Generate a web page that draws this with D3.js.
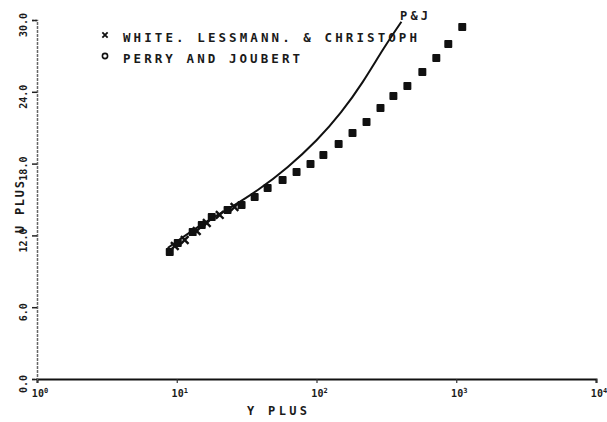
<!DOCTYPE html>
<html>
<head>
<meta charset="utf-8">
<script src="https://cdn.jsdelivr.net/npm/d3@7/dist/d3.min.js"></script>
<style>
  html, body { margin: 0; padding: 0; background: #fff; }
  svg { display: block; }
  text { font-family: "DejaVu Sans Mono", monospace; fill: #1a1a1a; font-weight: bold; }
</style>
</head>
<body>
<svg id="chart" width="607" height="422"></svg>
<script>
// ---- data ----
const xTicks = [1, 10, 100, 1000, 10000];
const xTickExp = ["0", "1", "2", "3", "4"];
const yTicks = [0, 6, 12, 18, 24, 30];
const yTickLabels = ["0.0", "6.0", "12.0", "18.0", "24.0", "30.0"];

// dots (filled markers)
const dotYPlus = [8.91, 10.17, 13.0, 15.1, 17.8, 23.1, 29.1, 36.1, 44.7, 57.2, 72.0, 90.6, 112, 144, 181, 228, 287, 355, 447, 572, 720, 877, 1104];
const dotUPlus = [10.61, 11.37, 12.28, 12.87, 13.54, 14.12, 14.54, 15.21, 15.96, 16.63, 17.30, 17.97, 18.72, 19.64, 20.56, 21.48, 22.65, 23.65, 24.49, 25.66, 26.83, 28.0, 29.42];

// crosses (White, Lessmann & Christoph)
const crossYPlus = [9.68, 11.4, 13.9, 16.4, 20.3, 25.9];
const crossUPlus = [11.11, 11.62, 12.37, 13.04, 13.71, 14.37];

// P&J curve
const curveYPlus = [8.62, 14.6, 23.9, 38.0, 62.0, 100, 150, 215, 300, 405];
const curveUPlus = [10.95, 12.79, 14.29, 15.79, 17.70, 19.95, 22.30, 24.85, 27.55, 29.85];

const legendLabels = ["WHITE. LESSMANN. & CHRISTOPH", "PERRY AND JOUBERT"];
const curveLabel = "P&J";
const xTitle = "Y PLUS";
const yTitle = "U PLUS";

// ---- chart ----
const svg = d3.select("#chart");
const x = d3.scaleLog().domain([1, 10000]).range([37, 596]);
const y = d3.scaleLinear().domain([0, 30]).range([379, 20]);

// axes
const xAxis = d3.axisBottom(x).tickValues(xTicks).tickSize(4).tickFormat(() => "");
const gx = svg.append("g").attr("transform", `translate(0,${y(0)})`).call(xAxis);
gx.select(".domain").attr("stroke", "#111").attr("stroke-width", 2);
gx.selectAll(".tick line").attr("stroke", "#333").attr("stroke-width", 1.2);

const yAxis = d3.axisLeft(y).tickValues(yTicks).tickSize(5).tickFormat(() => "");
const gy = svg.append("g").attr("transform", `translate(${x(1)},0)`).call(yAxis);
gy.select(".domain").attr("stroke", "#666").attr("stroke-width", 1.5).attr("stroke-dasharray", "3,1");
gy.selectAll(".tick line").attr("stroke", "#222").attr("stroke-width", 1.5);

// x tick labels
xTicks.forEach((t, i) => {
  const tx = svg.append("text")
    .attr("x", x(t) + 3).attr("y", 397)
    .attr("text-anchor", "middle")
    .attr("font-size", 10);
  tx.append("tspan").text("10");
  tx.append("tspan").attr("dy", -4).attr("font-size", 7).text(xTickExp[i]);
});

// y tick labels (rotated)
yTicks.forEach((t, i) => {
  svg.append("text")
    .attr("transform", `translate(27,${y(t) + 5}) rotate(-90)`)
    .attr("text-anchor", "middle")
    .attr("font-size", 10)
    .text(yTickLabels[i]);
});

// axis titles
svg.append("text")
  .attr("x", 247).attr("y", 415)
  .attr("font-size", 12)
  .attr("textLength", 60).attr("lengthAdjust", "spacing")
  .text(xTitle);
svg.append("text")
  .attr("transform", `translate(24,233) rotate(-90)`)
  .attr("font-size", 12)
  .attr("textLength", 52).attr("lengthAdjust", "spacing")
  .text(yTitle);

// P&J curve
const line = d3.line()
  .x(d => x(d[0])).y(d => y(d[1]))
  .curve(d3.curveNatural);
svg.append("path")
  .datum(curveYPlus.map((v, i) => [v, curveUPlus[i]]))
  .attr("d", line)
  .attr("fill", "none")
  .attr("stroke", "#111")
  .attr("stroke-width", 2);

// dots
const sq = d3.symbol().type(d3.symbolSquare).size(38);
svg.append("g").selectAll("path")
  .data(dotYPlus.map((v, i) => [v, dotUPlus[i]]))
  .join("path")
  .attr("transform", d => `translate(${x(d[0])},${y(d[1])})`)
  .attr("d", sq)
  .attr("fill", "#111")
  .attr("stroke", "#111")
  .attr("stroke-width", 1.8)
  .attr("stroke-linejoin", "round");

// crosses
const cr = d3.symbol().type(d3.symbolX).size(40);
svg.append("g").selectAll("path")
  .data(crossYPlus.map((v, i) => [v, crossUPlus[i]]))
  .join("path")
  .attr("transform", d => `translate(${x(d[0])},${y(d[1])})`)
  .attr("d", cr)
  .attr("fill", "none")
  .attr("stroke", "#111")
  .attr("stroke-width", 2.4);

// curve label
svg.append("text")
  .attr("x", 400).attr("y", 20)
  .attr("font-size", 12)
  .attr("textLength", 28).attr("lengthAdjust", "spacing")
  .text(curveLabel);

// legend
const legendY = [38, 59];
const legendLen = [294, 177];
svg.append("path")
  .attr("transform", `translate(105,${legendY[0] - 3})`)
  .attr("d", d3.symbol().type(d3.symbolX).size(20))
  .attr("fill", "none").attr("stroke", "#111").attr("stroke-width", 1.8);
svg.append("circle")
  .attr("cx", 105).attr("cy", legendY[1] - 3).attr("r", 2.6)
  .attr("fill", "none").attr("stroke", "#111").attr("stroke-width", 1.6);
legendLabels.forEach((t, i) => {
  svg.append("text")
    .attr("x", 123).attr("y", legendY[i] + 4)
    .attr("font-size", 12.5)
    .attr("textLength", legendLen[i]).attr("lengthAdjust", "spacing")
    .text(t);
});
</script>
</body>
</html>
